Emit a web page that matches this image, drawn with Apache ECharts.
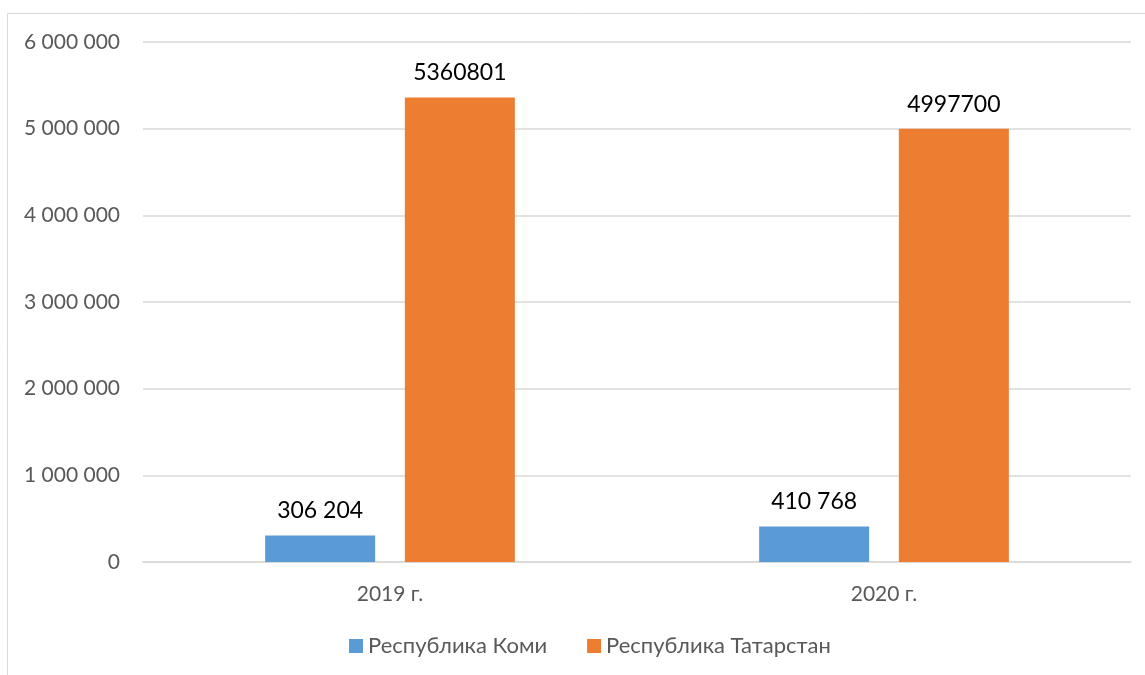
<!DOCTYPE html>
<html><head><meta charset="utf-8">
<script src="https://cdn.jsdelivr.net/npm/echarts@6/dist/echarts.min.js"></script>
<style>html,body{margin:0;padding:0;background:#fff}#c{width:1145px;height:675px}</style>
</head><body><div id="c"></div>
<script>
const categories = ['2019 г.', '2020 г.'];
const seriesNames = ['Республика Коми', 'Республика Татарстан'];
const komi = [306204, 410768];
const tatarstan = [5360801, 4997700];
const yTicks = [0, 1000000, 2000000, 3000000, 4000000, 5000000, 6000000];

const FONT = 'Lato, "Open Sans", sans-serif';
const spaced = v => String(v).replace(/\B(?=(\d{3})+(?!\d))/g, ' ');
const chart = echarts.init(document.getElementById('c'), null, {renderer: 'canvas'});
chart.setOption({
  animation: false,
  textStyle: {fontFamily: FONT},
  graphic: [{type: 'rect', shape: {x: 7.5, y: 13.5, width: 1145, height: 670}, style: {fill: 'none', stroke: '#d9d9d9', lineWidth: 1}, silent: true}],
  grid: {left: 143, right: 14, top: 42, bottom: 113, containLabel: false},
  legend: {
    bottom: 13, left: 344, itemWidth: 14, itemHeight: 14, itemGap: 40,
    icon: 'rect',
    textStyle: {fontSize: 22, color: '#595959', fontFamily: FONT},
    data: seriesNames
  },
  xAxis: {
    type: 'category', data: categories,
    axisLine: {lineStyle: {color: '#d9d9d9', width: 1.5}},
    axisTick: {show: false},
    axisLabel: {fontSize: 21, color: '#595959', margin: 22, fontFamily: FONT}
  },
  yAxis: {
    type: 'value', min: yTicks[0], max: yTicks[yTicks.length - 1], interval: 1000000,
    axisLine: {show: false}, axisTick: {show: false},
    splitLine: {lineStyle: {color: '#d9d9d9', width: 1.5}},
    axisLabel: {fontSize: 21, color: '#595959', margin: 23, fontFamily: FONT, formatter: v => spaced(v)}
  },
  series: [
    {name: seriesNames[0], type: 'bar', data: komi, barWidth: 110, barGap: '27%',
     itemStyle: {color: '#5b9bd5'},
     label: {show: true, position: 'top', distance: 13, fontSize: 23, color: '#000', fontFamily: FONT, formatter: p => spaced(p.value)}},
    {name: seriesNames[1], type: 'bar', data: tatarstan, barWidth: 110, barGap: '27%',
     itemStyle: {color: '#ed7d31'},
     label: {show: true, position: 'top', distance: 13, fontSize: 23, color: '#000', fontFamily: FONT, formatter: p => String(p.value)}}
  ]
});
</script></body></html>
